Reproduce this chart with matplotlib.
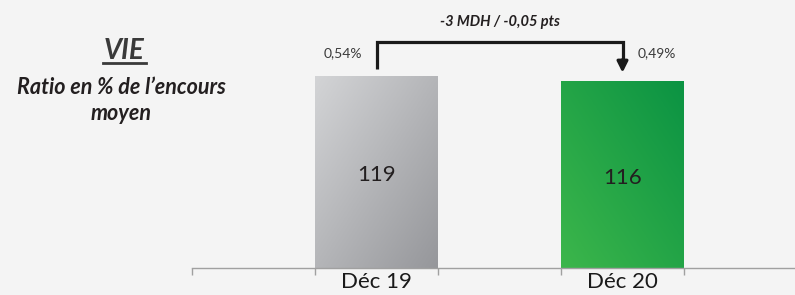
import matplotlib.pyplot as plt
import numpy as np
from matplotlib.colors import LinearSegmentedColormap
from matplotlib.lines import Line2D

# data
periods = ['Déc 19', 'Déc 20']
encours = [119, 116]
ratios = ['0,54%', '0,49%']
variation = '-3 MDH / -0,05 pts'
positions = [1, 3]

plt.rcParams['font.family'] = ['Lato', 'DejaVu Sans']

fig = plt.figure(figsize=(7.95, 2.95), dpi=100)
fig.patch.set_facecolor('#f4f4f4')

ax = fig.add_axes([192 / 795, 27 / 295, 603 / 795, 268 / 295])
ax.set_facecolor('none')

# gradient colors per bar
grads = [
    LinearSegmentedColormap.from_list('g1', ['#d3d4d6', '#96979b']),
    LinearSegmentedColormap.from_list('g2', ['#3cb64b', '#0b9343']),
]

n = 100
u, v = np.meshgrid(np.linspace(0, 1, n), np.linspace(0, 1, n))
diag_down = (u + v) / 2          # top-left -> bottom-right
diag_up = (u + (1 - v)) / 2      # bottom-left -> top-right

bars = ax.bar(positions, encours, width=1.0, color='none', edgecolor='none')
for i, (b, val) in enumerate(zip(bars, encours)):
    x0 = b.get_x()
    w = b.get_width()
    img = diag_down if i == 0 else diag_up
    im = ax.imshow(img, cmap=grads[i], extent=[x0, x0 + w, 0, val],
                   aspect='auto', origin='upper', zorder=1)
    im.set_clip_path(b)
    ax.text(positions[i], val / 2 - 2, str(val), ha='center', va='center',
            fontsize=16, color='#231f20', zorder=3)

ax.set_xlim(-0.5, -0.5 + 603 / 123)
ax.set_ylim(0, 166)

# axis
for s in ['top', 'right', 'left']:
    ax.spines[s].set_visible(False)
ax.spines['bottom'].set_color('#a0a0a0')
ax.spines['bottom'].set_linewidth(1)
ax.set_yticks([])
ax.set_xticks(positions)
ax.set_xticklabels(periods, fontsize=16, color='#1a1a1a')
ax.set_xticks([-0.5, 0.5, 1.5, 2.5, 3.5], minor=True)
ax.tick_params(axis='x', which='major', length=0, pad=3)
ax.tick_params(axis='x', which='minor', length=5, color='#a0a0a0', width=1)

# bracket with arrow
ytop = 140
x1, x2 = positions
ax.plot([x1, x1, x2, x2], [encours[0] + 4, ytop, ytop, encours[1] + 12],
        color='#1a1a1a', lw=2.3, solid_joinstyle='miter', solid_capstyle='butt',
        zorder=4)
ax.annotate('', xy=(x2, encours[1] + 5), xytext=(x2, encours[1] + 13),
            arrowprops=dict(arrowstyle='-|>', color='#1a1a1a', lw=2.3,
                            mutation_scale=16, shrinkA=0, shrinkB=0),
            zorder=4)
ax.text((x1 + x2) / 2, 152.5, variation, ha='center', va='center',
        fontsize=10.5, fontweight='bold', fontstyle='italic', color='#231f20')
ax.text(x1 - 0.12, 133.3, ratios[0], ha='right', va='center',
        fontsize=10, color='#3a3a3a')
ax.text(x2 + 0.12, 133.3, ratios[1], ha='left', va='center',
        fontsize=10, color='#3a3a3a')

# left titles
fig.text(124 / 795, 1 - 51 / 295, 'VIE', ha='center', va='center',
         fontsize=20, fontweight='bold', fontstyle='italic', color='#3a3a3a')
fig.add_artist(Line2D([103 / 795, 146 / 795], [1 - 63 / 295, 1 - 63 / 295],
                      color='#3a3a3a', lw=2))
fig.text(121 / 795, 1 - 87 / 295, 'Ratio en % de l\u2019encours', ha='center',
         va='center', fontsize=15.5, fontweight='bold', fontstyle='italic',
         color='#231f20')
fig.text(121 / 795, 1 - 113 / 295, 'moyen', ha='center', va='center',
         fontsize=15.5, fontweight='bold', fontstyle='italic', color='#231f20')

fig.savefig('out.png', dpi=100, facecolor=fig.get_facecolor())
